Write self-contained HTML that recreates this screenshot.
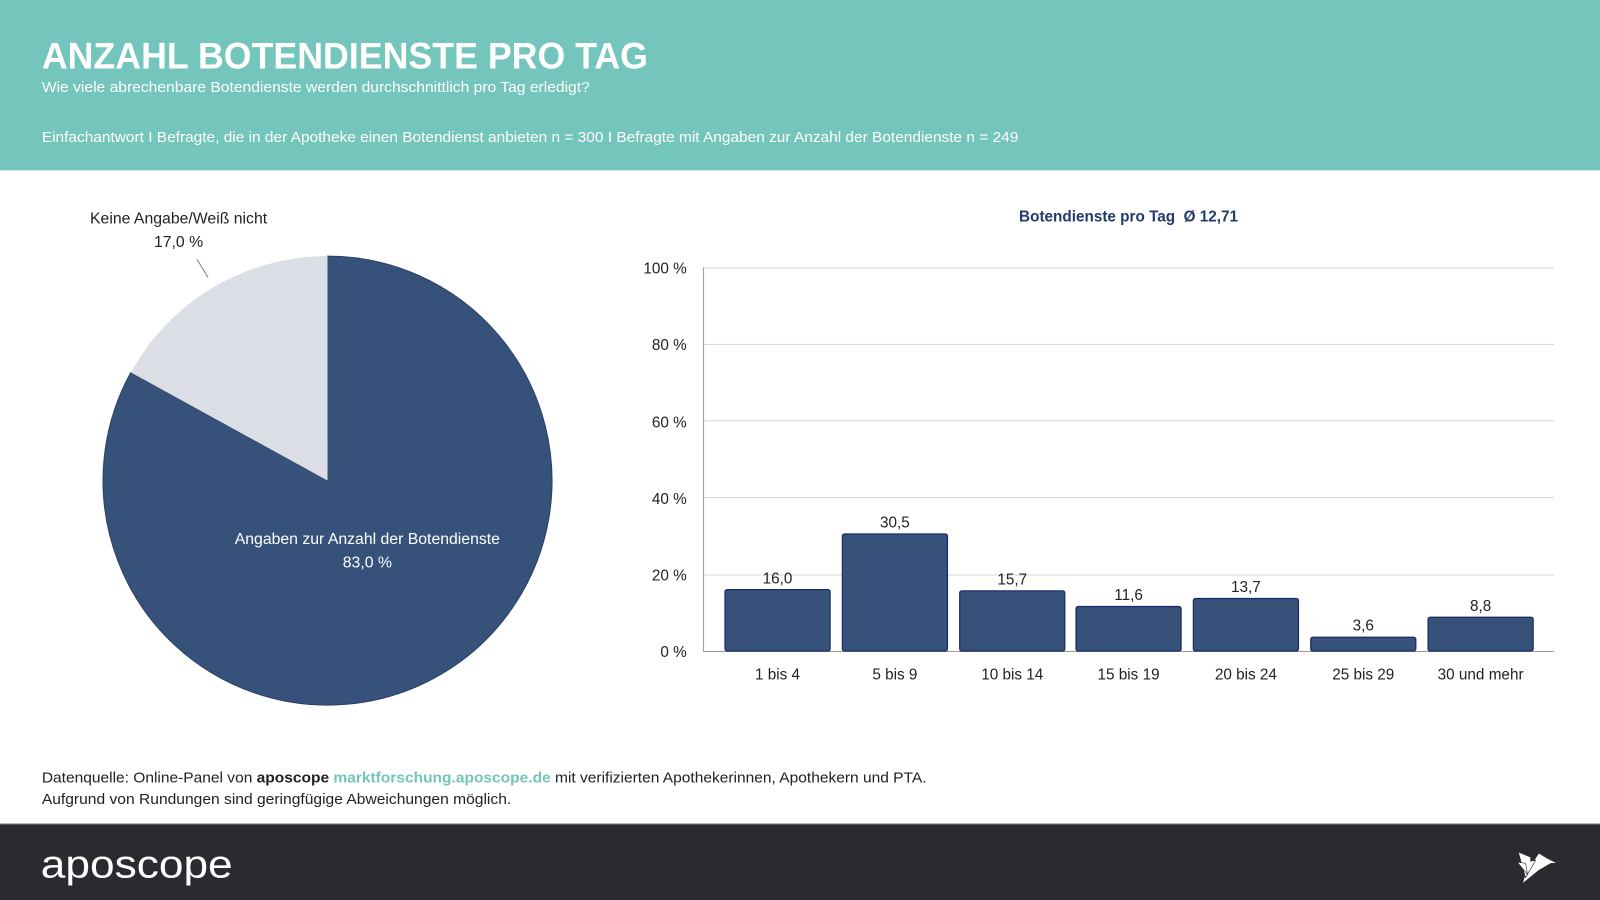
<!DOCTYPE html>
<html><head><meta charset="utf-8"><style>
html,body{margin:0;padding:0;background:#fff}
svg{display:block}
text{font-family:"Liberation Sans",sans-serif}
</style></head><body>
<svg width="1600" height="900" viewBox="0 0 1568 882" preserveAspectRatio="none" xmlns="http://www.w3.org/2000/svg">
<rect x="0" y="0" width="1568" height="167" fill="#74c5bb"/>
<text x="41" y="67" font-size="36" font-weight="bold" fill="#fff" textLength="594" lengthAdjust="spacingAndGlyphs">ANZAHL BOTENDIENSTE PRO TAG</text>
<text x="41" y="90" font-size="14.5" fill="#fff" textLength="537" lengthAdjust="spacingAndGlyphs">Wie viele abrechenbare Botendienste werden durchschnittlich pro Tag erledigt?</text>
<text x="41" y="139" font-size="14.5" fill="#fff" textLength="957" lengthAdjust="spacingAndGlyphs">Einfachantwort I Befragte, die in der Apotheke einen Botendienst anbieten n = 300 I Befragte mit Angaben zur Anzahl der Botendienste n = 249</text>

<!-- pie -->
<path d="M321,471 L321,251 A220,220 0 1 1 128.2,365 Z" fill="#36527a" stroke="#2b3f66" stroke-width="1"/>
<path d="M321,471 L128.2,365 A220,220 0 0 1 321,251 Z" fill="#dcdee5"/>
<line x1="193" y1="254" x2="204" y2="272" stroke="#888" stroke-width="1"/>
<text x="175" y="219" font-size="15.5" fill="#222" text-anchor="middle">Keine Angabe/Weiß nicht</text>
<text x="175" y="242" font-size="15.5" fill="#222" text-anchor="middle">17,0 %</text>
<text x="360" y="533" font-size="15.5" fill="#fff" text-anchor="middle">Angaben zur Anzahl der Botendienste</text>
<text x="360" y="556" font-size="15.5" fill="#fff" text-anchor="middle">83,0 %</text>

<!-- bar chart -->
<text x="1106" y="217" font-size="15" font-weight="bold" fill="#233a6b" text-anchor="middle">Botendienste pro Tag&#160; Ø 12,71</text>
<g stroke="#d6d6d6" stroke-width="1">
<line x1="689" y1="262.5" x2="1523" y2="262.5"/>
<line x1="689" y1="337.5" x2="1523" y2="337.5"/>
<line x1="689" y1="412.5" x2="1523" y2="412.5"/>
<line x1="689" y1="487.5" x2="1523" y2="487.5"/>
<line x1="689" y1="563.5" x2="1523" y2="563.5"/>
</g>
<line x1="689.5" y1="262" x2="689.5" y2="638" stroke="#999" stroke-width="1"/>
<line x1="689" y1="638.5" x2="1523" y2="638.5" stroke="#999" stroke-width="1"/>
<g font-size="15" fill="#222" text-anchor="end">
<text x="673" y="268">100 %</text>
<text x="673" y="343">80 %</text>
<text x="673" y="419">60 %</text>
<text x="673" y="494">40 %</text>
<text x="673" y="569">20 %</text>
<text x="673" y="644">0 %</text>
</g>
<g fill="#36527a" stroke="#1e2a66" stroke-width="1.2">
<rect x="710.5" y="577.8" width="103" height="60.2" rx="2"/>
<rect x="825.5" y="523.3" width="103" height="114.7" rx="2"/>
<rect x="940.5" y="579" width="103" height="59" rx="2"/>
<rect x="1054.5" y="594.4" width="103" height="43.6" rx="2"/>
<rect x="1169.5" y="586.5" width="103" height="51.5" rx="2"/>
<rect x="1284.5" y="624.5" width="103" height="13.5" rx="2"/>
<rect x="1399.5" y="604.9" width="103" height="33.1" rx="2"/>
</g>
<g font-size="15" fill="#222" text-anchor="middle">
<text x="762" y="572">16,0</text>
<text x="877" y="517">30,5</text>
<text x="992" y="573">15,7</text>
<text x="1106" y="588">11,6</text>
<text x="1221" y="580">13,7</text>
<text x="1336" y="618">3,6</text>
<text x="1451" y="599">8,8</text>
<text x="762" y="666">1 bis 4</text>
<text x="877" y="666">5 bis 9</text>
<text x="992" y="666">10 bis 14</text>
<text x="1106" y="666">15 bis 19</text>
<text x="1221" y="666">20 bis 24</text>
<text x="1336" y="666">25 bis 29</text>
<text x="1451" y="666">30 und mehr</text>
</g>

<!-- footer text -->
<text x="41" y="767" font-size="14.5" fill="#222" textLength="867" lengthAdjust="spacingAndGlyphs">Datenquelle: Online-Panel von <tspan font-weight="bold">aposcope</tspan> <tspan font-weight="bold" fill="#74c5bb">marktforschung.aposcope.de</tspan> mit verifizierten Apothekerinnen, Apothekern und PTA.</text>
<text x="41" y="788" font-size="14.5" fill="#222" textLength="460" lengthAdjust="spacingAndGlyphs">Aufgrund von Rundungen sind geringfügige Abweichungen möglich.</text>

<rect x="0" y="807" width="1568" height="75" fill="#2a2b30"/>
<line x1="0" y1="807.5" x2="1568" y2="807.5" stroke="#777" stroke-width="1"/>
<text x="40" y="860" font-size="38" fill="#fff" textLength="188" lengthAdjust="spacingAndGlyphs">aposcope</text>
<g fill="#fff" stroke="#2a2b30" stroke-width="0.6">
<polygon points="1516,841 1508,836 1495,856 1492,866 1508,853 1520,846 1526,846"/>
<polygon points="1500,844 1505,843 1495,860 1488,835 1500,840"/>
<polygon points="1487,845 1495,846 1497,857"/>
</g>
</svg>
</body></html>
